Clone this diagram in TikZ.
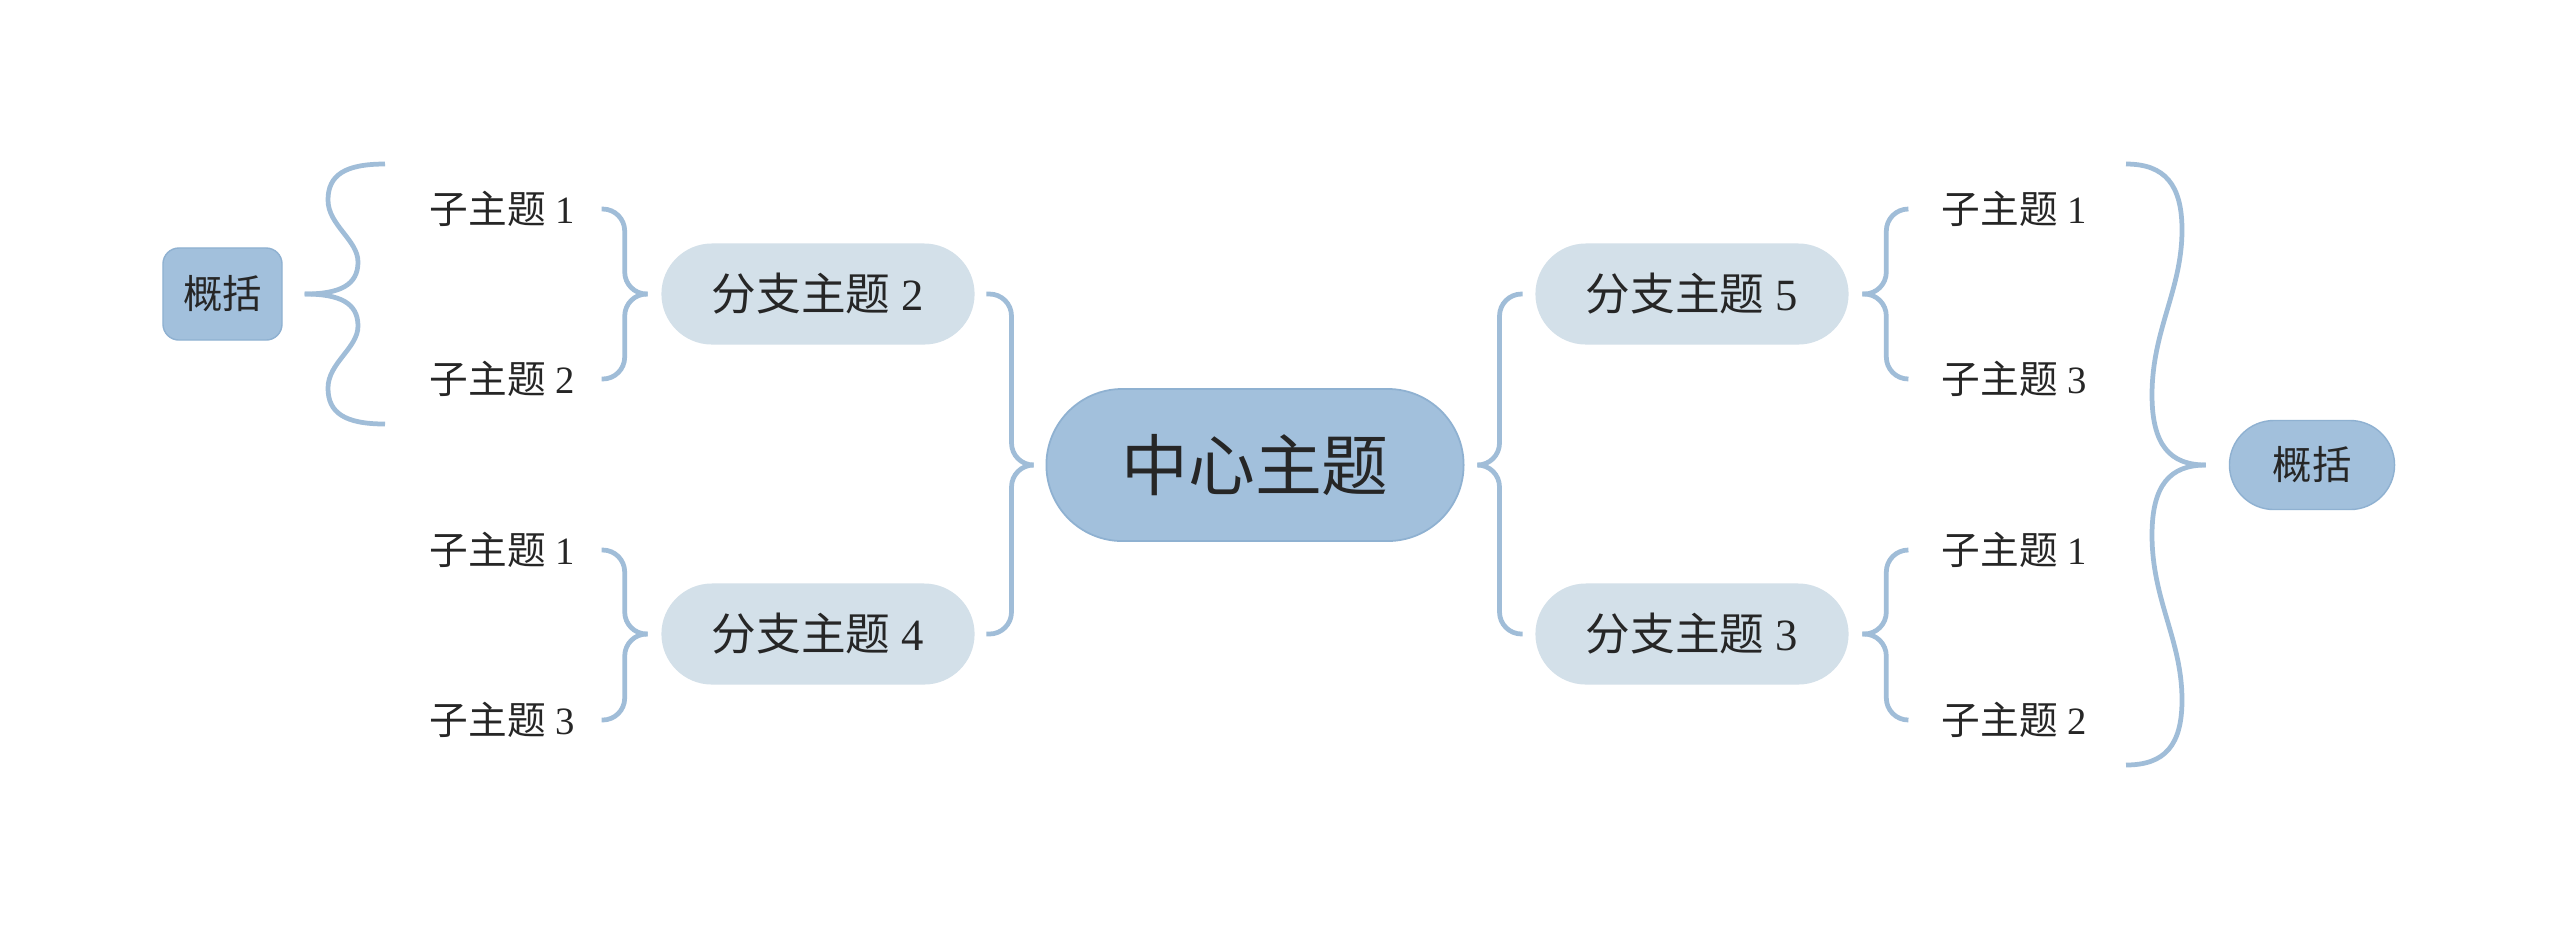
\documentclass[tikz,border=0pt]{standalone}
\usepackage{fontspec}
\setmainfont{Liberation Serif}
\newfontfamily\cjk{Noto Sans CJK SC}
\usetikzlibrary{calc}
\definecolor{cfill}{HTML}{A2C0DC}
\definecolor{cline}{HTML}{8FB1D1}
\definecolor{bfill}{HTML}{D3E0E9}
\definecolor{brc}{HTML}{A0BDD8}
\definecolor{txt}{HTML}{262626}
\begin{document}
\begin{tikzpicture}[x=0.01cm,y=-0.01cm,
  central/.style={fill=cfill, draw=cline, line width=0.5pt, rounded corners=0.76cm,
    minimum width=4.17cm, minimum height=1.52cm, inner sep=0pt, text=txt,
    font=\fontsize{19}{22}\selectfont},
  branch/.style={fill=bfill, rounded corners=0.505cm, minimum width=3.13cm,
    minimum height=1.01cm, inner sep=0pt, text=txt, font=\fontsize{12.7}{15}\selectfont},
  sub/.style={inner sep=0pt, text=txt, font=\fontsize{11}{13}\selectfont},
  sumbox/.style={fill=cfill, draw=cline, line width=0.4pt, rounded corners=0.16cm,
    minimum width=1.19cm, minimum height=0.92cm, inner sep=0pt, text=txt,
    font=\fontsize{11.2}{13}\selectfont},
  sumpill/.style={fill=cfill, draw=cline, line width=0.4pt, rounded corners=0.445cm,
    minimum width=1.65cm, minimum height=0.89cm, inner sep=0pt, text=txt,
    font=\fontsize{11.2}{13}\selectfont},
  br/.style={draw=brc, line width=1.35pt, rounded corners=0.22cm},
  bigbr/.style={draw=brc, line width=1.35pt}
]
\useasboundingbox[fill=white] (0,0) rectangle (2560,929);

% nodes
\node[central] (c) at (1255,465) {\cjk 中心主题};
\node[branch] (b2) at (818,294) {{\cjk 分支主题} 2};
\node[branch] (b4) at (818,634) {{\cjk 分支主题} 4};
\node[branch] (b5) at (1692,294) {{\cjk 分支主题} 5};
\node[branch] (b3) at (1692,634) {{\cjk 分支主题} 3};

\node[sub, anchor=west] (s21) at (429,209) {{\cjk 子主题} 1};
\node[sub, anchor=west] (s22) at (429,379) {{\cjk 子主题} 2};
\node[sub, anchor=west] (s41) at (429,550) {{\cjk 子主题} 1};
\node[sub, anchor=west] (s43) at (429,720) {{\cjk 子主题} 3};
\node[sub, anchor=west] (s51) at (1941,209) {{\cjk 子主题} 1};
\node[sub, anchor=west] (s53) at (1941,379) {{\cjk 子主题} 3};
\node[sub, anchor=west] (s31) at (1941,550) {{\cjk 子主题} 1};
\node[sub, anchor=west] (s32) at (1941,720) {{\cjk 子主题} 2};

\node[sumbox] (sumL) at (222.5,294) {\cjk 概括};
\node[sumpill] (sumR) at (2312,465) {\cjk 概括};

% central braces
\draw[br] ($(b2.east)+(11,0)$) -| ($(c.west)+(-34,0)$) -- ($(c.west)+(-14,0)$);
\draw[br] ($(b4.east)+(11,0)$) -| ($(c.west)+(-34,0)$) -- ($(c.west)+(-14,0)$);
\draw[br] ($(b5.west)+(-12,0)$) -| ($(c.east)+(35,0)$) -- ($(c.east)+(14,0)$);
\draw[br] ($(b3.west)+(-12,0)$) -| ($(c.east)+(35,0)$) -- ($(c.east)+(14,0)$);

% sub braces left
\coordinate (L2) at ($(b2.west)+(-59,0)$);
\draw[br] (s21 -| L2) -| ($(b2.west)+(-36,0)$) -- ($(b2.west)+(-13,0)$);
\draw[br] (s22 -| L2) -| ($(b2.west)+(-36,0)$) -- ($(b2.west)+(-13,0)$);
\coordinate (L4) at ($(b4.west)+(-59,0)$);
\draw[br] (s41 -| L4) -| ($(b4.west)+(-36,0)$) -- ($(b4.west)+(-13,0)$);
\draw[br] (s43 -| L4) -| ($(b4.west)+(-36,0)$) -- ($(b4.west)+(-13,0)$);

% sub braces right
\coordinate (R5) at ($(b5.east)+(59,0)$);
\draw[br] (s51 -| R5) -| ($(b5.east)+(37,0)$) -- ($(b5.east)+(13,0)$);
\draw[br] (s53 -| R5) -| ($(b5.east)+(37,0)$) -- ($(b5.east)+(13,0)$);
\coordinate (R3) at ($(b3.east)+(59,0)$);
\draw[br] (s31 -| R3) -| ($(b3.east)+(37,0)$) -- ($(b3.east)+(13,0)$);
\draw[br] (s32 -| R3) -| ($(b3.east)+(37,0)$) -- ($(b3.east)+(13,0)$);

% summary brace left
\coordinate (tl) at ($(sumL.east)+(22,0)$);
\draw[bigbr] (tl) .. controls (340,294) and (358,285) .. (358,262)
  .. controls (358,240) and (328,225) .. (328,200)
  .. controls (328,175) and (345,164) .. (385,164);
\draw[bigbr] (tl) .. controls (340,294) and (358,303) .. (358,326)
  .. controls (358,348) and (328,363) .. (328,388)
  .. controls (328,413) and (345,424) .. (385,424);

% summary brace right
\coordinate (tr) at ($(sumR.west)+(-23,0)$);
\draw[bigbr] (tr) .. controls (2170,465) and (2152,445) .. (2152,395)
  .. controls (2152,330) and (2182,290) .. (2182,230)
  .. controls (2182,185) and (2165,164) .. (2126,164);
\draw[bigbr] (tr) .. controls (2170,465) and (2152,485) .. (2152,535)
  .. controls (2152,600) and (2182,640) .. (2182,700)
  .. controls (2182,745) and (2165,765) .. (2126,765);
\end{tikzpicture}
\end{document}
